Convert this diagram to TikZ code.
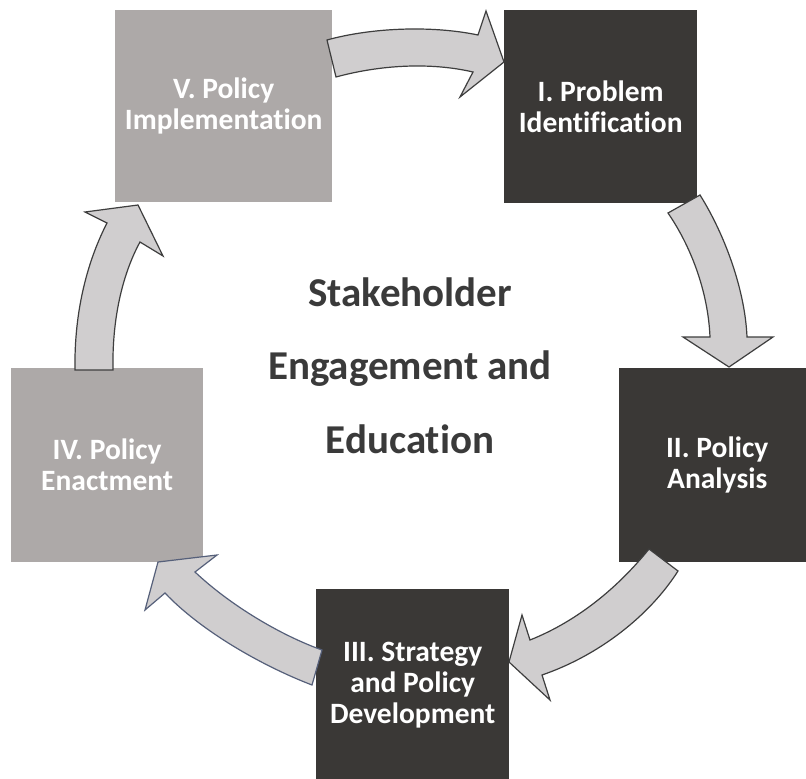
\documentclass[tikz,border=0pt]{standalone}
\usepackage{fontspec}
\setmainfont{Carlito}[Ligatures={CommonOff}]
\begin{document}
\begin{tikzpicture}[x=1pt,y=-1pt,
  darkbox/.style={fill=boxdark,inner sep=0pt,anchor=north west},
  lightbox/.style={fill=boxlight,inner sep=0pt,anchor=north west},
  boxlabel/.style={text=white,align=center,font=\fontsize{29.5}{31}\selectfont\bfseries},
  hublabel/.style={text=hubtext,anchor=base,inner sep=0pt,font=\fontsize{41}{45}\selectfont\bfseries},
  blockarrow/.style={fill=arrowfill,draw=arrowline,line width=1.2pt,line join=miter},
  bluearrow/.style={blockarrow,draw=arrowblue}]
\definecolor{boxdark}{HTML}{3A3836}
\definecolor{boxlight}{HTML}{ADA9A8}
\definecolor{arrowfill}{HTML}{D0CECF}
\definecolor{arrowline}{HTML}{3E3E3E}
\definecolor{arrowblue}{HTML}{56607A}
\definecolor{hubtext}{HTML}{3A3A3A}
\clip (0,0) rectangle (806,779);
\fill[white] (0,0) rectangle (806,779);

% the five stages of the cycle
\node[lightbox,minimum width=217pt,minimum height=192pt] (v)   at (115,10)  {};
\node[darkbox, minimum width=193pt,minimum height=193pt] (i)   at (504,10)  {};
\node[darkbox, minimum width=196pt,minimum height=194pt] (ii)  at (619,368) {};
\node[darkbox, minimum width=193pt,minimum height=192pt] (iii) at (316,589) {};
\node[lightbox,minimum width=192pt,minimum height=194pt] (iv)  at (11,368)  {};

\node[boxlabel] (vt)   at (v.center)   {V. Policy\\Implementation};
\node[boxlabel] (it)   at (i.center)   {I. Problem\\Identification};
\node[boxlabel] (iit)  at (ii.center)  {II. Policy\\Analysis};
\node[boxlabel] (iiit) at (iii.center) {III. Strategy\\and Policy\\Development};
\node[boxlabel] (ivt)  at (iv.center)  {IV. Policy\\Enactment};

% curved block arrows between the stages
\draw[blockarrow] (327,40) .. controls (370,28) and (430,25) .. (478,35)
  -- (486,11) -- (504,62) -- (460,97) -- (473,72)
  .. controls (430,62) and (380,65) .. (336,77) -- cycle;
\draw[blockarrow] (700,195) .. controls (725,235) and (745,290) .. (747,337)
  -- (773,337) -- (729,367) -- (683,337) -- (710,337)
  .. controls (708,290) and (690,245) .. (668,213) -- cycle;
\draw[blockarrow] (678,571) .. controls (650,615) and (600,655) .. (542,675)
  -- (550,700) -- (509,662) -- (522,615) -- (530,640)
  .. controls (580,620) and (620,585) .. (649,549) -- cycle;
\draw[bluearrow] (322,650) .. controls (280,635) and (230,605) .. (195,572)
  -- (217,555) -- (158,562) -- (145,610) -- (165,593)
  .. controls (200,630) and (260,665) .. (312,685) -- cycle;
\draw[blockarrow] (75,370) .. controls (74,310) and (88,260) .. (107,223)
  -- (85,212) -- (138,205) -- (163,256) -- (140,242)
  .. controls (122,275) and (112,320) .. (113,370) -- cycle;

% central theme
\node[hublabel] (h1) at (410,306) {Stakeholder};
\node[hublabel] (h2) at (410,379) {Engagement and};
\node[hublabel] (h3) at (410,453) {Education};
\end{tikzpicture}
\end{document}
